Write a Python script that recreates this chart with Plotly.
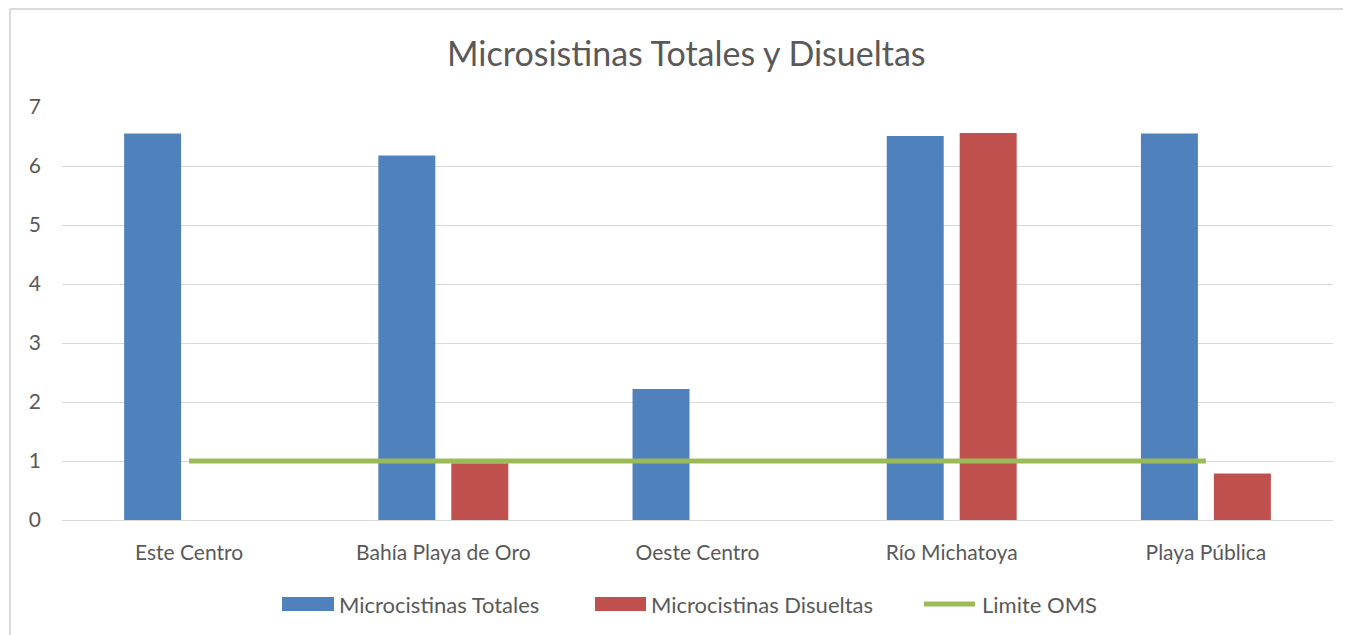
import plotly.graph_objects as go

categories = ["Este Centro", "Bahía Playa de Oro", "Oeste Centro", "Río Michatoya", "Playa Pública"]
totales = [6.55, 6.18, 2.22, 6.51, 6.55]
disueltas = [0, 0.96, 0, 6.56, 0.79]
limite = [1, 1, 1, 1, 1]
y_ticks = [0, 1, 2, 3, 4, 5, 6, 7]

FONT = "Lato"
GREY = "#595959"
BLUE, RED, GREEN = "#4F81BD", "#C0504D", "#9BBB59"

fig = go.Figure()
fig.add_trace(go.Bar(x=categories, y=totales, name="Microcistinas Totales",
                     marker=dict(color=BLUE, line=dict(width=0))))
fig.add_trace(go.Bar(x=categories, y=disueltas, name="Microcistinas Disueltas",
                     marker=dict(color=RED, line=dict(width=0))))
fig.add_trace(go.Scatter(x=categories, y=limite, name="Limite OMS", mode="lines",
                         line=dict(color=GREEN, width=5)))

OFF = 8  # page body margin
W, H = 1351 - OFF, 635 - OFF
PL, PR, PT, PB = 62, 1333, 107, 520  # plot area in page pixels
L = PL - OFF
R = W - (PR - OFF)
T = PT - OFF
B = H - (PB - OFF)
pw = PR - PL
ph = PB - PT

def px2x(p):
    return (p - PL) / pw

def px2y(p):
    return (PB - p) / ph

shapes = [
    dict(type="line", xref="paper", yref="paper", x0=px2x(10), x1=px2x(1400),
         y0=px2y(9), y1=px2y(9), line=dict(color="#D9D9D9", width=2)),
    dict(type="line", xref="paper", yref="paper", x0=px2x(10), x1=px2x(10),
         y0=px2y(9), y1=px2y(700), line=dict(color="#D9D9D9", width=2)),
]
annotations = []

# custom legend (Excel style)
leg_y = 604
legend_items = [
    (fig.data[0].name, BLUE, "rect", 282, 334),
    (fig.data[1].name, RED, "rect", 595, 646),
    (fig.data[2].name, GREEN, "line", 922, 977),
]
for name, col, kind, xa, xb in legend_items:
    if kind == "rect":
        shapes.append(dict(type="rect", xref="paper", yref="paper",
                           x0=px2x(xa), x1=px2x(xb), y0=px2y(leg_y + 7), y1=px2y(leg_y - 7),
                           fillcolor=col, line=dict(width=0)))
    else:
        shapes.append(dict(type="line", xref="paper", yref="paper",
                           x0=px2x(xa + 2), x1=px2x(xb - 2), y0=px2y(leg_y), y1=px2y(leg_y),
                           line=dict(color=col, width=5)))
    annotations.append(dict(text=name, xref="paper", yref="paper", x=px2x(xb + 3), y=px2y(leg_y),
                            xanchor="left", yanchor="middle", showarrow=False,
                            font=dict(family=FONT, size=22, color=GREY)))

annotations.append(dict(text="Microsistinas Totales y Disueltas", xref="paper", yref="paper",
                        x=px2x(686), y=px2y(53), xanchor="center", yanchor="middle",
                        showarrow=False, font=dict(family=FONT, size=34, color=GREY)))

fig.update_layout(
    width=W, height=H,
    margin=dict(l=L, r=R, t=T, b=B),
    paper_bgcolor="white", plot_bgcolor="white",
    barmode="group", bargap=0.426, bargroupgap=0.219,
    font=dict(family=FONT, color=GREY, size=21),
    showlegend=False,
    xaxis=dict(showgrid=False, showline=False, ticks="", tickfont=dict(size=21, color=GREY),
               ticklabelstandoff=18),
    yaxis=dict(range=[0, 7], tickvals=y_ticks, showgrid=True, gridcolor="#D9D9D9", gridwidth=1,
               zeroline=True, zerolinecolor="#D9D9D9", zerolinewidth=1,
               tickfont=dict(size=21, color=GREY), ticks="", ticklabelstandoff=20),
    shapes=shapes,
    annotations=annotations,
)

fig.write_html("out.html")
